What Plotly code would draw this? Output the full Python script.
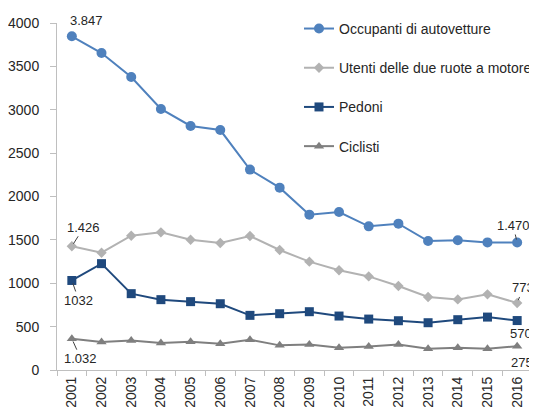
import plotly.graph_objects as go

years = [str(y) for y in range(2001, 2017)]
occupanti = [3847, 3654, 3378, 3009, 2813, 2766, 2310, 2102, 1791, 1821, 1656, 1687, 1487, 1495, 1471, 1470]
utenti = [1426, 1352, 1548, 1587, 1502, 1464, 1544, 1383, 1249, 1149, 1079, 968, 841, 814, 872, 773]
pedoni = [1032, 1226, 880, 811, 788, 764, 630, 649, 672, 622, 587, 568, 545, 580, 610, 570]
ciclisti = [361, 322, 341, 310, 326, 303, 349, 284, 295, 257, 272, 295, 245, 257, 245, 275]

names = ["Occupanti di autovetture", "Utenti delle due ruote a motore", "Pedoni", "Ciclisti"]
colors = ["#4f81bd", "#b2b2b2", "#1f497d", "#7f7f7f"]
symbols = ["circle", "diamond", "square", "triangle-up"]
msizes = [10, 8, 9, 9]
series = [occupanti, utenti, pedoni, ciclisti]

FONT = "Liberation Sans, Arial, sans-serif"

fig = go.Figure()
for i, (nm, vals) in enumerate(zip(names, series)):
    fig.add_trace(go.Scatter(
        x=years, y=vals, name=nm, mode="lines+markers",
        line=dict(color=colors[i], width=2),
        marker=dict(symbol=symbols[i], size=msizes[i], color=colors[i]),
        legendgroup=str(i),
        cliponaxis=False,
    ))

# data labels: (series, index, text, ax, ay, leader)
labels = [
    (occupanti, 0, "3.847", 15, -16, False),
    (utenti, 0, "1.426", 12, -19, True),
    (pedoni, 0, "1032", 7, 20, True),
    (ciclisti, 0, "1.032", 9, 20, True),
    (occupanti, 15, "1.470", -4, -17, True),
    (utenti, 15, "773", 6, -15, True),
    (pedoni, 15, "570", 4, 13, False),
    (ciclisti, 15, "275", 5, 16, False),
]
for vals, idx, txt, ax, ay, arrow in labels:
    fig.add_annotation(
        x=idx, y=vals[idx], text=txt,
        showarrow=True, arrowhead=0, arrowwidth=1,
        arrowcolor="#404040" if arrow else "rgba(0,0,0,0)",
        ax=ax, ay=ay, standoff=3,
        font=dict(family=FONT, size=13, color="#262626"),
    )

fig.update_layout(
    width=529, height=400,
    margin=dict(l=49, r=0, t=15, b=38),
    paper_bgcolor="white", plot_bgcolor="white",
    font=dict(family=FONT, size=14, color="#262626"),
    showlegend=True,
    legend=dict(
        x=0.51, y=1.029, xanchor="left", yanchor="top",
        font=dict(family=FONT, size=14, color="#262626"),
        bgcolor="rgba(0,0,0,0)", tracegroupgap=18,
        itemwidth=30,
    ),
    xaxis=dict(
        type="category", tickangle=-90, showgrid=False, automargin=False,
        showline=True, linecolor="#bfbfbf", linewidth=1,
        ticks="outside", tickson="boundaries", ticklen=5, tickcolor="#bfbfbf",
        tickfont=dict(family=FONT, size=14, color="#262626"),
        range=[-0.5, 15.5],
    ),
    yaxis=dict(
        range=[0, 4000], dtick=500, showgrid=False, zeroline=False, automargin=False,
        showline=True, linecolor="#bfbfbf", linewidth=1,
        ticks="outside", ticklen=6, tickcolor="#bfbfbf", ticklabelstandoff=8,
        tickfont=dict(family=FONT, size=14, color="#262626"),
    ),
)

fig.write_html("out.html")
